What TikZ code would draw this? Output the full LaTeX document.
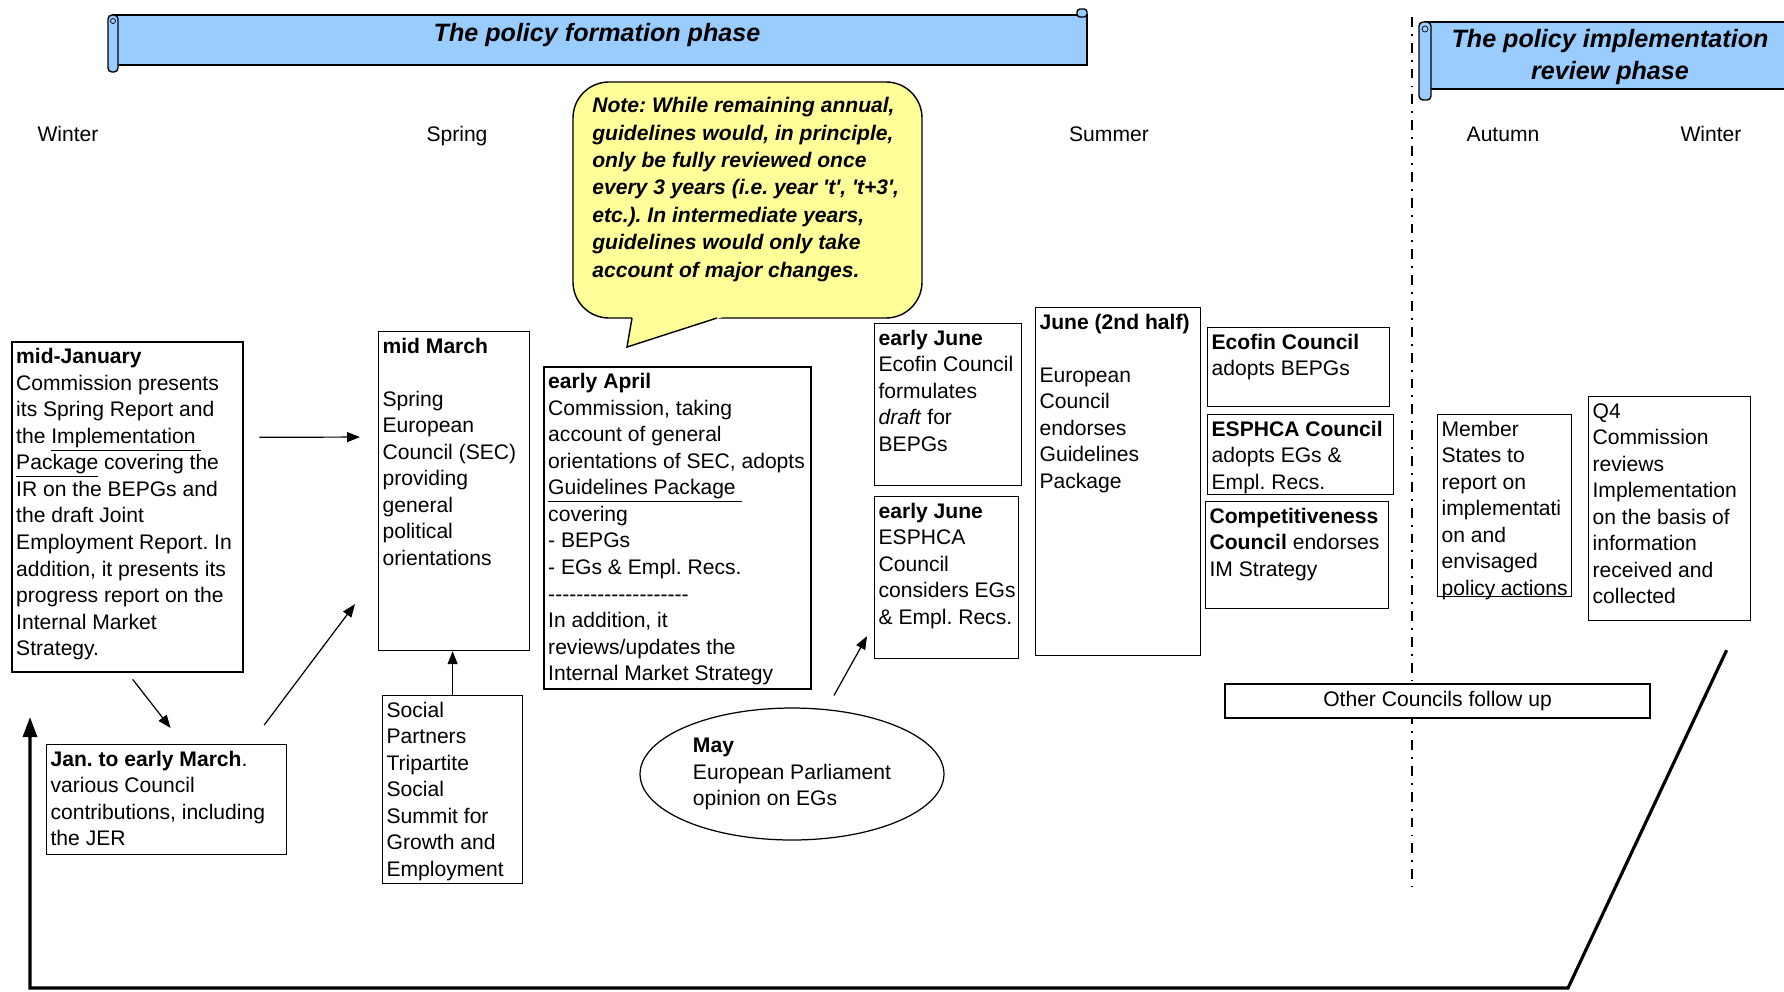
\documentclass[tikz,border=0pt]{standalone}
\usepackage{fontspec}
\setmainfont{Liberation Sans}
\usetikzlibrary{arrows.meta,shapes.geometric}
\definecolor{scrollBlue}{RGB}{153,204,255}
\definecolor{noteYellow}{RGB}{255,255,153}
\newcommand{\boxtext}[3]{\parbox[t][#2][t]{#1}{\raggedright\rule{0pt}{10pt}#3}}
\frenchspacing

\begin{document}
\begin{tikzpicture}[
  x=0.02cm, y=-0.02cm,
  box/.style={draw, anchor=north west, inner sep=0.08cm, font=\fontsize{12}{15.1}\selectfont},
  thinbox/.style={box, line width=0.7pt},
  thickbox/.style={box, line width=1.4pt},
  season/.style={anchor=base, font=\fontsize{12}{15}\selectfont},
  phase/.style={align=center, font=\fontsize{14.3}{18.5}\selectfont\bfseries\itshape},
  scroll/.style={draw, fill=scrollBlue, line width=0.8pt},
  arrow/.style={-{Triangle[length=0.26cm, width=0.2cm]}, line width=0.7pt},
  backline/.style={-{Triangle[length=0.4cm, width=0.28cm]}, line width=1.8pt},
  phaseline/.style={line width=1.1pt, dash pattern=on 5.6pt off 4pt on 1.1pt off 4pt}
]
  \useasboundingbox (0,0) rectangle (1784,991);

  % phase scrolls
  \draw[scroll] (113,15) rectangle (1087,65);
  \draw[scroll, rounded corners=0.08cm] (108,15) rectangle (118,72);
  \draw (113,21) circle[radius=0.05cm];
  \draw[scroll, rounded corners=0.06cm] (1077,9) rectangle (1087,17);
  \node[phase] (formation) at (597,35) {The policy formation phase};

  \draw[scroll] (1425,22) rectangle (1790,89);
  \draw[scroll, rounded corners=0.08cm] (1419,22) rectangle (1431,100);
  \draw (1425,29) circle[radius=0.06cm];
  \node[phase] (implementation) at (1610,57) {The policy implementation\\review phase};

  \draw[phaseline] (1412,17) -- (1412,887);

  % seasons
  \node[season] (winterA) at (68,141) {Winter};
  \node[season] (spring) at (457,141) {Spring};
  \node[season] (summer) at (1109,141) {Summer};
  \node[season] (autumn) at (1503,141) {Autumn};
  \node[season] (winterB) at (1711,141) {Winter};

  % note bubble
  \draw[fill=noteYellow, rounded corners=0.72cm, line width=0.8pt] (573,82) rectangle (922,318);
  \fill[noteYellow] (633,311) -- (627,347) -- (742,311) -- cycle;
  \draw[line width=0.8pt] (632,318) -- (627,347) -- (717,318);
  \node[anchor=north west, inner sep=0, align=left, font=\fontsize{12}{15.6}\selectfont\bfseries\itshape] (notetext) at (592,97)
    {Note: While remaining annual,\\guidelines would, in principle,\\only be fully reviewed once\\every 3 years (i.e. year \textquotesingle t\textquotesingle, \textquotesingle t+3\textquotesingle,\\etc.). In intermediate years,\\guidelines would only take\\account of major changes.};

  % policy formation
  \node[thickbox] (midjan) at (11,341) {\boxtext{4.46cm}{6.44cm}{\textbf{mid-January}\\Commission presents\\its Spring Report and\\the \underline{Implementation }\\\underline{Package} covering the\\IR on the BEPGs and\\the draft Joint\\Employment Report. In\\addition, it presents its\\progress report on the\\Internal Market\\Strategy.}};
  \node[thinbox] (janmar) at (46,744) {\boxtext{4.64cm}{2.04cm}{\textbf{Jan. to early March}.\\various Council\\contributions, including\\the JER}};
  \node[thinbox] (midmar) at (378,331) {\boxtext{2.86cm}{6.22cm}{\textbf{mid March}\\[15pt]Spring\\European\\Council (SEC)\\providing\\general\\political\\orientations}};
  \node[thinbox] (social) at (382,695) {\boxtext{2.64cm}{3.6cm}{Social\\Partners\\Tripartite\\Social\\Summit for\\Growth and\\Employment}};
  \node[thickbox] (earlyapr) at (543,366) {\boxtext{5.18cm}{6.28cm}{\textbf{early April}\\Commission, taking\\account of general\\orientations of SEC, adopts\\\underline{Guidelines Package }\\covering\\- BEPGs\\- EGs \& Empl. Recs.\\-{}-{}-{}-{}-{}-{}-{}-{}-{}-{}-{}-{}-{}-{}-{}-{}-{}-{}-{}-\\In addition, it\\reviews/updates the\\Internal Market Strategy}};
  \node[draw, ellipse, line width=0.7pt, minimum width=6.08cm, minimum height=2.64cm, inner sep=0.05cm, align=left, font=\fontsize{12}{15.1}\selectfont] (may) at (792,774) {\textbf{May}\\European Parliament\\opinion on EGs};
  \node[thinbox] (ecofinjune) at (874,323) {\boxtext{2.78cm}{3.08cm}{\textbf{early June}\\Ecofin Council\\formulates\\\textit{draft} for\\BEPGs}};
  \node[thinbox] (esphcajune) at (874,496) {\boxtext{2.72cm}{3.08cm}{\textbf{early June}\\ESPHCA\\Council\\\mbox{considers EGs}\\\& Empl. Recs.}};
  \node[thinbox] (junetwo) at (1035,307) {\boxtext{3.14cm}{6.8cm}{\textbf{June (2nd half)}\\[15pt]European\\Council\\endorses\\Guidelines\\Package}};
  \node[thinbox] (ecofin) at (1207,327) {\boxtext{3.48cm}{1.42cm}{\textbf{Ecofin Council}\\adopts BEPGs}};
  \node[thinbox] (esphca) at (1207,414) {\boxtext{3.56cm}{1.44cm}{\textbf{ESPHCA Council}\\adopts EGs \&\\Empl. Recs.}};
  \node[thinbox] (compet) at (1205,501) {\boxtext{3.5cm}{1.98cm}{\textbf{Competitiveness}\\\textbf{Council} endorses\\IM Strategy}};
  \node[draw, fill=white, line width=0.7pt, minimum width=8.5cm, minimum height=0.68cm, inner sep=0, font=\fontsize{12}{15}\selectfont] (followup) at (1437.5,701) {Other Councils follow up};

  % policy implementation
  \node[thinbox] (member) at (1437,414) {\boxtext{2.52cm}{3.48cm}{Member\\States to\\report on\\implementati\\on and\\envisaged\\policy actions}};
  \node[thinbox] (qfour) at (1588,396) {\boxtext{3.08cm}{4.32cm}{Q4\\Commission\\reviews\\Implementation\\on the basis of\\information\\received and\\collected}};

  % connectors
  \draw[arrow] ([shift={(15,-70)}]midjan.east) -- ([shift={(-18,-54)}]midmar.west);
  \draw[arrow] ([shift={(5,6)}]midjan.south) -- ([shift={(4,-16)}]janmar.north);
  \draw[arrow] ([shift={(-23,-19)}]janmar.north east) -- ([shift={(-23,-47)}]midmar.south west);
  \draw[arrow] (social.north) -- (social.north |- midmar.south);
  \draw[arrow] ([shift={(42,-12)}]may.north) -- ([shift={(-7,-23)}]esphcajune.south west);

  \coordinate (backcorner) at (1568,988);
  \coordinate (backleft) at (30,988);
  \coordinate (backtop) at (30,717);
  \draw[backline] ([shift={(57,29)}]qfour.south) -- (backcorner) -- (backleft) -- (backtop);
\end{tikzpicture}
\end{document}
